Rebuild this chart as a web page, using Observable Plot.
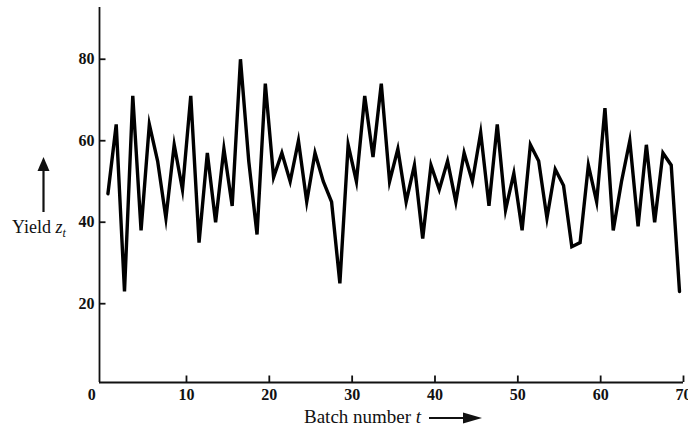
<!DOCTYPE html>
<html>
<head>
<meta charset="utf-8">
<script src="https://cdn.jsdelivr.net/npm/d3@7"></script>
<script src="https://cdn.jsdelivr.net/npm/@observablehq/plot@0.6"></script>
<style>
  html, body { margin: 0; padding: 0; background: #fff; overflow: hidden; }
  #chart svg { display: block; }
</style>
</head>
<body>
<div id="chart"></div>
<script>
// Batch yields (Series F), batch number t = 1..70
const batch = d3.range(1, 71);
const yieldValues = [
  47, 64, 23, 71, 38, 64, 55, 41, 59, 48,
  71, 35, 57, 40, 58, 44, 80, 55, 37, 74,
  51, 57, 50, 60, 45, 57, 50, 45, 25, 59,
  50, 71, 56, 74, 50, 58, 45, 54, 36, 54,
  48, 55, 45, 57, 50, 62, 44, 64, 43, 52,
  38, 59, 55, 41, 53, 49, 34, 35, 54, 45,
  68, 38, 50, 60, 39, 59, 40, 57, 54, 23
];
const xTicks = [10, 20, 30, 40, 50, 60, 70];
const yTicks = [20, 40, 60, 80];
const originLabel = [0];

const data = batch.map((t, i) => ({t, z: yieldValues[i]}));

const xMin = -0.5, xMax = 70;
const yMin = 0.66, yMax = 92.7;
const W = 688, H = 427;
const mL = 99, mR = 5, mT = 7, mB = 45;
const xUnit = (W - mL - mR) / (xMax - xMin);
const yUnit = (H - mT - mB) / (yMax - yMin);
const tickLen = 6.5;
const font = "'Liberation Serif', 'DejaVu Serif', serif";

const chart = Plot.plot({
  width: W,
  height: H,
  marginLeft: mL,
  marginRight: mR,
  marginTop: mT,
  marginBottom: mB,
  style: {background: "#fff", fontFamily: font, color: "#111"},
  x: {domain: [xMin, xMax], axis: null},
  y: {domain: [yMin, yMax], axis: null},
  marks: [
    // axis lines
    Plot.ruleX([xMin], {stroke: "#111", strokeWidth: 1.8}),
    Plot.ruleY([yMin], {stroke: "#111", strokeWidth: 1.8}),
    // inward ticks
    Plot.ruleY(yTicks, {x1: xMin, x2: xMin + tickLen / xUnit, stroke: "#111", strokeWidth: 1.8}),
    Plot.ruleX(xTicks, {y1: yMin, y2: yMin + tickLen / yUnit, stroke: "#111", strokeWidth: 1.8}),
    // tick labels
    Plot.text(yTicks, {x: xMin, y: d => d, text: d => String(d), textAnchor: "end", dx: -5, fontSize: 16, fontWeight: "bold", fill: "#111"}),
    Plot.text(xTicks, {x: d => d, y: yMin, text: d => String(d), dy: 12.5, fontSize: 16, fontWeight: "bold", fill: "#111"}),
    Plot.text(originLabel, {x: d => d, y: yMin, text: d => String(d), dy: 12.5, dx: -12, fontSize: 16, fontWeight: "bold", fill: "#111"}),
    // series
    Plot.line(data, {x: "t", y: "z", dx: -4, stroke: "#000", strokeWidth: 3.4, strokeLinejoin: "miter", strokeMiterlimit: 8})
  ]
});

document.getElementById("chart").appendChild(chart);

// axis titles with arrows
const svg = d3.select(chart);
const g = svg.append("g").attr("fill", "#111").attr("text-anchor", "start").style("font-family", font);

// x title
const xt = g.append("text").attr("x", 304).attr("y", 423).attr("font-size", 19).attr("text-anchor", "start");
xt.append("tspan").text("Batch number ");
xt.append("tspan").attr("font-style", "italic").text("t");
// x arrow
g.append("line").attr("x1", 429).attr("x2", 466).attr("y1", 418).attr("y2", 418).attr("stroke", "#111").attr("stroke-width", 2.2);
g.append("path").attr("d", "M463,412.5 L482,418 L463,423.5 Z");

// y title
const yt = g.append("text").attr("x", 12).attr("y", 233).attr("font-size", 18).attr("text-anchor", "start");
yt.append("tspan").text("Yield ");
yt.append("tspan").attr("font-style", "italic").text("z");
yt.append("tspan").attr("font-style", "italic").attr("font-size", 12).attr("dy", 4).text("t");
// y arrow
g.append("line").attr("x1", 43.5).attr("x2", 43.5).attr("y1", 212).attr("y2", 168).attr("stroke", "#111").attr("stroke-width", 2.2);
g.append("path").attr("d", "M37.5,171 L43.5,157 L49.5,171 Z");
</script>
</body>
</html>
